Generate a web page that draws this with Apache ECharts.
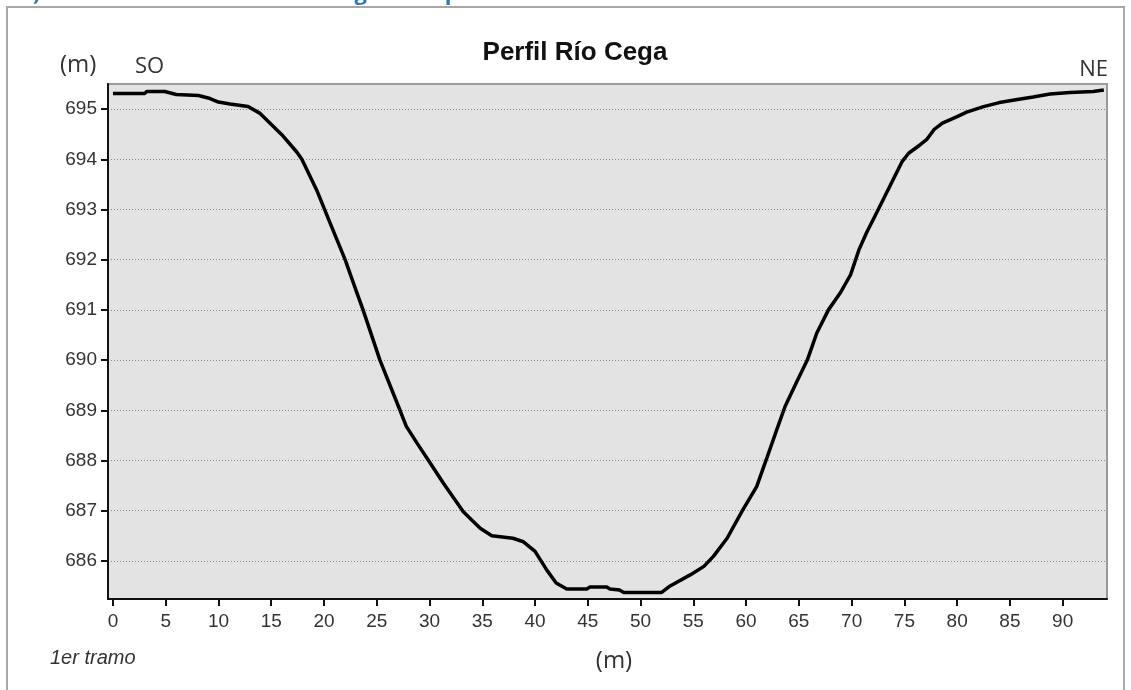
<!DOCTYPE html>
<html>
<head>
<meta charset="utf-8">
<script src="https://cdn.jsdelivr.net/npm/echarts@6/dist/echarts.min.js"></script>
<style>
  html, body { margin: 0; padding: 0; background: #fff; }
  #main { width: 1131px; height: 690px; }
</style>
</head>
<body>
<div id="main"></div>
<script>
var distancia = [0, 3.0, 3.2, 4.9, 6.0, 8.1, 9.2, 10.0, 11.1, 12.8, 13.9, 16.0, 17.4, 17.9, 19.3, 20.6, 22.0, 23.1, 23.7, 25.3,
  27.2, 27.8, 28.8, 30.0, 31.3, 33.2, 34.8, 35.9, 37.9, 38.9, 40.0, 41.1, 42.0, 43.0, 44.9, 45.2, 46.8, 47.1, 48.0, 48.4,
  52.0, 52.8, 54.7, 56.0, 56.9, 58.2, 59.7, 61.0, 61.9, 62.9, 63.7, 64.8, 65.8, 66.7, 67.8, 68.9, 69.9, 70.7, 71.4, 72.5,
  73.3, 74.8, 75.4, 76.5, 77.1, 77.8, 78.6, 80.0, 80.9, 82.5, 84.0, 85.7, 87.2, 88.8, 90.7, 92.9, 93.9];
var cota = [695.31, 695.31, 695.35, 695.35, 695.29, 695.27, 695.21, 695.14, 695.10, 695.05, 694.92, 694.49, 694.15, 694.0, 693.39, 692.72, 692.0, 691.35, 691.0, 690.0,
  689.0, 688.68, 688.35, 687.97, 687.55, 686.98, 686.65, 686.5, 686.45, 686.38, 686.19, 685.82, 685.56, 685.44, 685.44, 685.48, 685.48, 685.44, 685.42, 685.37,
  685.37, 685.5, 685.72, 685.89, 686.09, 686.45, 687.02, 687.48, 688.01, 688.61, 689.08, 689.57, 690.0, 690.54, 691.0, 691.33, 691.7, 692.2, 692.53, 692.99,
  693.33, 693.96, 694.12, 694.29, 694.39, 694.59, 694.72, 694.85, 694.94, 695.05, 695.13, 695.19, 695.24, 695.3, 695.33, 695.35, 695.38];

var xTicks = [0, 5, 10, 15, 20, 25, 30, 35, 40, 45, 50, 55, 60, 65, 70, 75, 80, 85, 90];
var yTicks = [686, 687, 688, 689, 690, 691, 692, 693, 694, 695];

var puntos = distancia.map(function (d, i) { return [d, cota[i]]; });

var myChart = echarts.init(document.getElementById('main'));

var option = {
  backgroundColor: '#fff',
  animation: false,
  grid: {
    left: 108, top: 84, right: 24, bottom: 91,
    show: true,
    backgroundColor: '#e3e3e3',
    borderColor: '#9a9a9a',
    borderWidth: 2
  },
  xAxis: {
    type: 'value',
    min: -0.47,
    max: 94.2,
    axisLine: { show: true, onZero: false, lineStyle: { color: '#111', width: 2 } },
    axisTick: { show: true, customValues: xTicks, length: 7, lineStyle: { color: '#111', width: 2 } },
    axisLabel: { customValues: xTicks, margin: 13, color: '#333', fontSize: 19, fontFamily: 'Liberation Sans' },
    splitLine: { show: false }
  },
  yAxis: {
    type: 'value',
    min: 685.24,
    max: 695.5,
    axisLine: { show: true, onZero: false, lineStyle: { color: '#111', width: 2 } },
    axisTick: { show: true, customValues: yTicks, length: 7, lineStyle: { color: '#111', width: 2 } },
    axisLabel: { customValues: yTicks, margin: 11, color: '#333', fontSize: 19, fontFamily: 'Liberation Sans' },
    splitLine: { show: true, lineStyle: { color: '#8a8a8a', type: [1, 2], width: 1 } }
  },
  series: [{
    type: 'line',
    data: puntos,
    showSymbol: false,
    lineStyle: { color: '#000', width: 3.5 }
  }],
  graphic: [
    { type: 'rect', shape: { x: 7, y: 7, width: 1117, height: 700 }, style: { fill: 'none', stroke: '#a8a8a8', lineWidth: 2 }, silent: true },
    { type: 'text', left: 0, top: -17, style: { text: 'b.1)   Perfil transversal del río Cega en el primer tramo', fill: '#2e75b6', font: 'bold 22px "Open Sans"' } },
    { type: 'text', x: 575, y: 53, style: { text: 'Perfil Río Cega', fill: '#111', font: 'bold 26px "Liberation Sans"', textAlign: 'center', textVerticalAlign: 'middle' } },
    { type: 'text', x: 60, y: 65, style: { text: '(m)', fill: '#333', font: '24px "Open Sans"', textVerticalAlign: 'middle' } },
    { type: 'text', x: 135, y: 67, style: { text: 'SO', fill: '#333', font: '22px "Open Sans"', textVerticalAlign: 'middle' } },
    { type: 'text', x: 1108, y: 70, style: { text: 'NE', fill: '#333', font: '22px "Open Sans"', textAlign: 'right', textVerticalAlign: 'middle' } },
    { type: 'text', x: 614, y: 661, style: { text: '(m)', fill: '#333', font: '24px "Open Sans"', textAlign: 'center', textVerticalAlign: 'middle' } },
    { type: 'text', x: 50, y: 658, style: { text: '1er tramo', fill: '#333', font: 'italic 20px "Liberation Sans"', textVerticalAlign: 'middle' } }
  ]
};

myChart.setOption(option);

window.onresize = () => {
  myChart.resize()
}
</script>
</body>
</html>
